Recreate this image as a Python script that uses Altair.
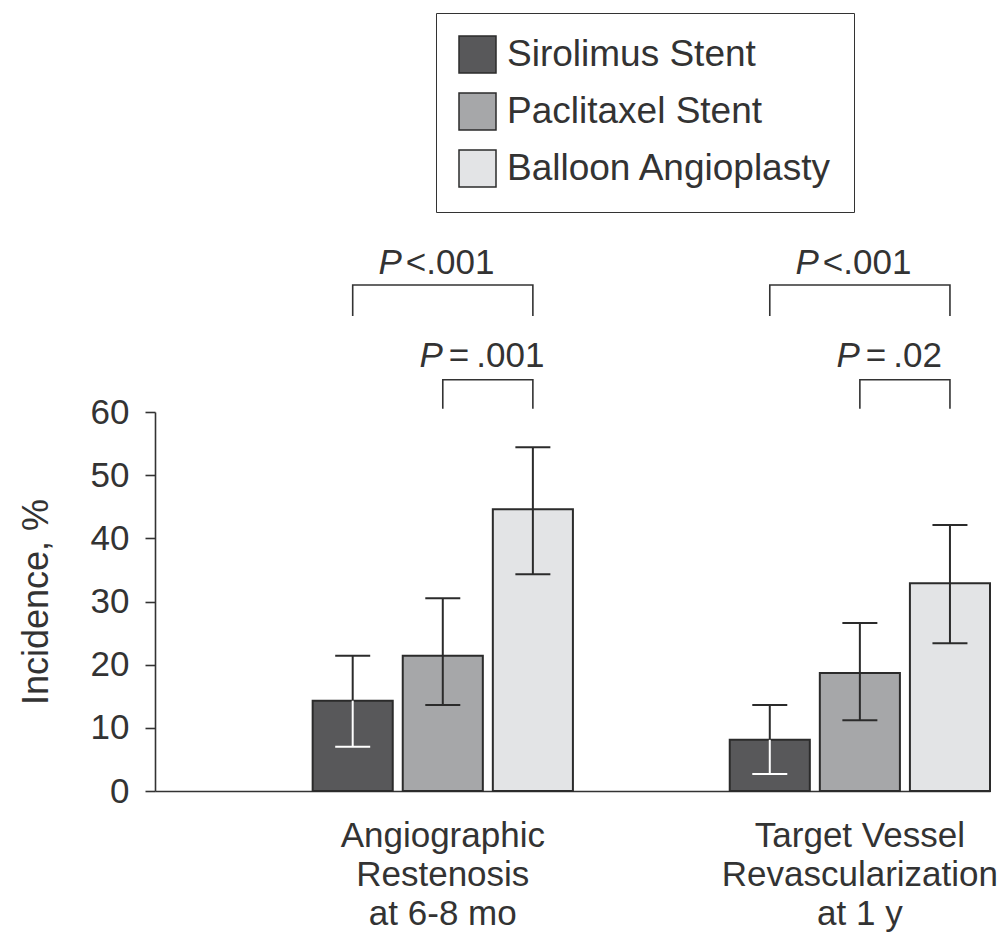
import altair as alt
import pandas as pd

# ---------------- data ----------------
outcomes = ["Angiographic|Restenosis|at 6-8 mo", "Target Vessel|Revascularization|at 1 y"]
treatments = ["Sirolimus Stent", "Paclitaxel Stent", "Balloon Angioplasty"]

restenosis_value = [14.3, 21.4, 44.6]
restenosis_low = [7.0, 13.6, 34.3]
restenosis_high = [21.4, 30.5, 54.4]

tvr_value = [8.1, 18.7, 32.9]
tvr_low = [2.7, 11.2, 23.4]
tvr_high = [13.6, 26.6, 42.1]

# pairwise comparisons (brackets above the bars)
comp_outcome = [0, 0, 1, 1]
comp_from = ["Sirolimus Stent", "Paclitaxel Stent", "Sirolimus Stent", "Paclitaxel Stent"]
comp_to = ["Balloon Angioplasty"] * 4
comp_relation = ["<", "=\u2009", "<", "=\u2009"]
comp_p = [".001", ".001", ".001", ".02"]
comp_level = ["upper", "lower", "upper", "lower"]
bracket_top = [80.1, 65.1, 80.1, 65.1]
bracket_leg = [75.2, 60.5, 75.2, 60.5]
label_y = [81.8, 67.1, 81.8, 67.1]

colors = ["#58585a", "#a6a7a9", "#e3e4e6"]
INK = "#2b2b2b"
FONT = "Liberation Sans"

# ---------------- tables ----------------
rows = []
for o, vals, lo, hi in [(outcomes[0], restenosis_value, restenosis_low, restenosis_high),
                        (outcomes[1], tvr_value, tvr_low, tvr_high)]:
    for t, v, l, h in zip(treatments, vals, lo, hi):
        rows.append({"outcome": o, "treatment": t, "value": v, "low": l, "high": h})
bars = pd.DataFrame(rows)

brk_rows = []
txt_rows = []
for i in range(len(comp_outcome)):
    o = outcomes[comp_outcome[i]]
    pts = [(comp_from[i], bracket_leg[i]), (comp_from[i], bracket_top[i]),
           (comp_to[i], bracket_top[i]), (comp_to[i], bracket_leg[i])]
    for k, (t, y) in enumerate(pts):
        brk_rows.append({"outcome": o, "treatment": t, "y": y, "pt": k, "id": i})
    txt_rows.append({"outcome": o, "treatment": "Paclitaxel Stent", "y": label_y[i],
                     "rest": comp_relation[i] + comp_p[i], "level": comp_level[i]})
brackets = pd.DataFrame(brk_rows)
labels = pd.DataFrame(txt_rows)

# ---------------- encodings ----------------
x_enc = alt.X("outcome:N",
              scale=alt.Scale(domain=outcomes, paddingInner=0.376, paddingOuter=0.189, align=1),
              axis=alt.Axis(title=None, labelAngle=0, ticks=False, labelPadding=27,
                            labelExpr="split(datum.label, '|')", labelLineHeight=39,
                            labelFontSize=35, labelLimit=600))
xo_enc = alt.XOffset("treatment:N",
                     scale=alt.Scale(domain=treatments, paddingInner=0.111, paddingOuter=0))
y_scale = alt.Scale(domain=[0, 60], nice=False)

bar_layer = alt.Chart(bars).mark_bar(stroke=INK, strokeWidth=2).encode(
    x=x_enc,
    xOffset=xo_enc,
    y=alt.Y("value:Q", scale=y_scale,
            axis=alt.Axis(title="Incidence, %", values=[0, 10, 20, 30, 40, 50, 60],
                          tickSize=10, labelPadding=16, titlePadding=35, grid=False,
                          labelFontSize=35, titleFontSize=36)),
    color=alt.Color("treatment:N",
                    scale=alt.Scale(domain=treatments, range=colors),
                    legend=alt.Legend(title=None, orient="none", legendX=281, legendY=-399,
                                      symbolType="square", symbolSize=1369,
                                      symbolStrokeColor=INK, symbolStrokeWidth=1.5,
                                      symbolOpacity=1,
                                      labelFontSize=37, labelFont=FONT, labelColor="#333333",
                                      labelOffset=10, labelLimit=600, rowPadding=14,
                                      padding=22, strokeColor="#333333")),
)

is_dark = alt.datum.treatment == treatments[0]

upper_whisker = alt.Chart(bars).mark_rule(strokeWidth=2, color=INK).encode(
    x="outcome:N", xOffset="treatment:N",
    y=alt.Y("value:Q", scale=y_scale), y2="high:Q")

lower_whisker = alt.Chart(bars).mark_rule(strokeWidth=2).encode(
    x="outcome:N", xOffset="treatment:N",
    y=alt.Y("low:Q", scale=y_scale), y2="value:Q",
    color=alt.condition(is_dark, alt.value("#ffffff"), alt.value(INK)))

upper_cap = alt.Chart(bars).mark_tick(orient="horizontal", size=35, thickness=2, color=INK,
                                      opacity=1).encode(
    x="outcome:N", xOffset="treatment:N",
    y=alt.Y("high:Q", scale=y_scale))

lower_cap = alt.Chart(bars).mark_tick(orient="horizontal", size=35, thickness=2,
                                      opacity=1).encode(
    x="outcome:N", xOffset="treatment:N",
    y=alt.Y("low:Q", scale=y_scale),
    color=alt.condition(is_dark, alt.value("#ffffff"), alt.value(INK)))

bracket_layer = alt.Chart(brackets).mark_line(color="#333333", strokeWidth=1.6).encode(
    x="outcome:N", xOffset="treatment:N",
    y=alt.Y("y:Q", scale=y_scale),
    detail="id:N",
    order="pt:Q")

def p_text(level, dx_p, dx_rest):
    base = alt.Chart(labels).transform_filter(alt.datum.level == level)
    p = base.mark_text(text="P", fontStyle="italic", align="right", baseline="alphabetic",
                       dx=dx_p, fontSize=35, font=FONT, color="#333333").encode(
        x="outcome:N", xOffset="treatment:N", y=alt.Y("y:Q", scale=y_scale))
    rest = base.mark_text(align="left", baseline="alphabetic", dx=dx_rest, fontSize=35,
                          font=FONT, color="#333333").encode(
        x="outcome:N", xOffset="treatment:N", y=alt.Y("y:Q", scale=y_scale), text="rest:N")
    return p + rest

chart = alt.layer(
    bar_layer, upper_whisker, lower_whisker, upper_cap, lower_cap, bracket_layer,
    p_text("upper", -41, -37), p_text("lower", 0, 6),
).properties(
    width=835, height=379,
    padding={"left": 18, "top": 12, "right": 4, "bottom": 4},
).configure_view(stroke=None).configure_axis(
    labelFont=FONT, titleFont=FONT, labelColor="#333333", titleColor="#333333",
    titleFontWeight="normal", domainColor="#333333", tickColor="#333333",
    domainWidth=1.6, tickWidth=1.6,
)

chart.save("out.html", embed_options={"renderer": "svg", "actions": False})
